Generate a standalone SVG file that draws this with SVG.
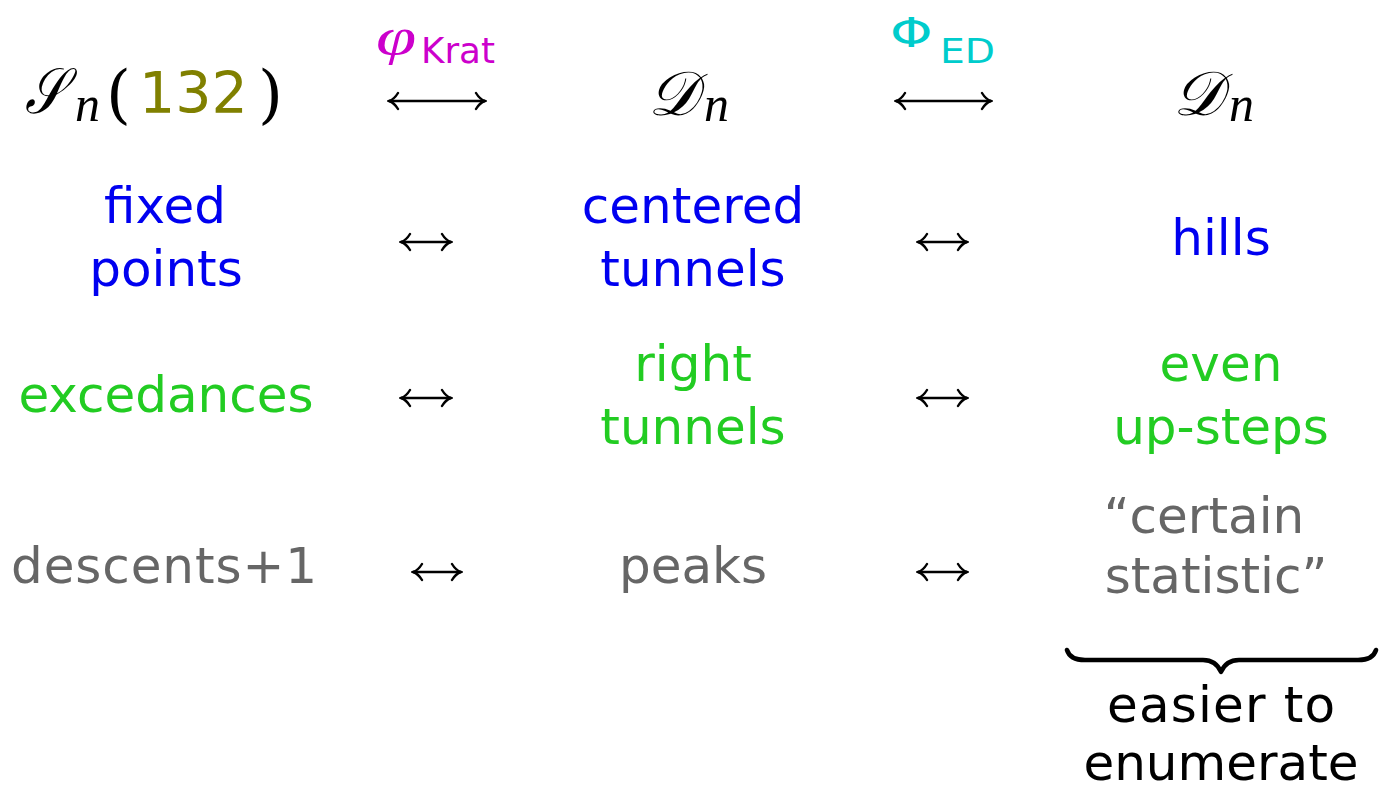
<svg xmlns="http://www.w3.org/2000/svg" width="1387" height="791" viewBox="0 0 1387 791">
<style>
.t{font-family:"DejaVu Sans",sans-serif;font-size:50px;text-anchor:middle}
.blue{fill:#0000f0}
.green{fill:#22cc22}
.gray{fill:#666666}
.blk{fill:#000}
.math{font-family:"DejaVu Serif","Liberation Serif",serif;font-style:italic}
.sub{font-family:"Liberation Serif",serif;font-style:italic;font-size:50px;fill:#000}
.conn{stroke:#000;stroke-width:2.4;fill:none;marker-start:url(#ah);marker-end:url(#ah)}
</style>
<defs>
<marker id="ah" viewBox="-12 -10 14 20" refX="0" refY="0" markerWidth="14" markerHeight="20" markerUnits="userSpaceOnUse" orient="auto-start-reverse">
<path d="M-9,-8 C-6,-3 -3,-1 0,0 C-3,1 -6,3 -9,8" fill="none" stroke="#000" stroke-width="2.4" stroke-linecap="round"/>
</marker>
</defs>
<rect width="1387" height="791" fill="#fff"/>

<g id="header-S">
<text x="0" y="0" class="math" font-size="64" fill="#000" transform="translate(25,113) scale(0.8,1)">𝒮</text>
<text x="75" y="121" class="sub">n</text>
<text x="106" y="116" font-family="DejaVu Serif,serif" font-size="64" fill="#000">(</text>
<text x="139" y="113" font-family="DejaVu Sans,sans-serif" font-size="57" fill="#808000">132</text>
<text x="258" y="116" font-family="DejaVu Serif,serif" font-size="64" fill="#000">)</text>
</g>
<g id="label-phi">
<text x="0" y="0" font-family="Liberation Serif,serif" font-style="italic" font-size="52" fill="#cc00cc" transform="translate(376,54) scale(1.4,1)">φ</text>
<text x="421" y="63" font-family="DejaVu Sans,sans-serif" font-size="35" fill="#cc00cc" textLength="74" lengthAdjust="spacingAndGlyphs">Krat</text>
</g>
<g id="header-D1">
<text x="648" y="115" class="math" font-size="62" fill="#000">𝒟</text>
<text x="704" y="121" class="sub">n</text>
</g>
<g id="label-Phi">
<text x="0" y="0" font-family="DejaVu Sans,sans-serif" font-weight="normal" font-size="40" fill="#00cccc" transform="translate(890,47) scale(1.35,1)">Φ</text>
<text x="940" y="63" font-family="DejaVu Sans,sans-serif" font-size="33" fill="#00cccc" textLength="55" lengthAdjust="spacingAndGlyphs">ED</text>
</g>
<g id="header-D2">
<text x="1173" y="115" class="math" font-size="62" fill="#000">𝒟</text>
<text x="1229" y="121" class="sub">n</text>
</g>

<g id="fixed-points"><text class="t blue" x="165" y="223">fixed</text><text class="t blue" x="166" y="286">points</text></g>
<g id="centered-tunnels"><text class="t blue" x="693" y="223">centered</text><text class="t blue" x="693" y="286">tunnels</text></g>
<g id="hills"><text class="t blue" x="1221" y="255">hills</text></g>

<g id="excedances"><text class="t green" x="166" y="412">excedances</text></g>
<g id="right-tunnels"><text class="t green" x="693" y="381">right</text><text class="t green" x="693" y="444">tunnels</text></g>
<g id="even-up-steps"><text class="t green" x="1221" y="381">even</text><text class="t green" x="1221" y="444">up-steps</text></g>

<g id="descents"><text class="t gray" x="164" y="583" textLength="306">descents+1</text></g>
<g id="peaks"><text class="t gray" x="693" y="583">peaks</text></g>
<g id="certain-statistic"><text class="t gray" x="1204" y="533">“certain</text><text class="t gray" x="1216" y="593">statistic”</text></g>

<g id="easier"><text class="t blk" x="1221" y="722" textLength="228">easier to</text><text class="t blk" x="1221" y="780">enumerate</text></g>

<g id="connectors">
<path class="conn" d="M389,101 H485" stroke-width="2"/>
<path class="conn" d="M896,101 H991" stroke-width="2"/>
<path class="conn" d="M401,242 H451"/>
<path class="conn" d="M918,242 H967"/>
<path class="conn" d="M401,398 H451"/>
<path class="conn" d="M918,398 H967"/>
<path class="conn" d="M413,572 H461"/>
<path class="conn" d="M918,572 H967"/>
<path d="M1067,650 Q1070,660 1085,660 L1203,660 Q1216,660 1221,672 Q1226,660 1239,660 L1358,660 Q1373,660 1376,650" fill="none" stroke="#000" stroke-width="4.5" stroke-linecap="round" stroke-linejoin="round"/>
</g>
</svg>
